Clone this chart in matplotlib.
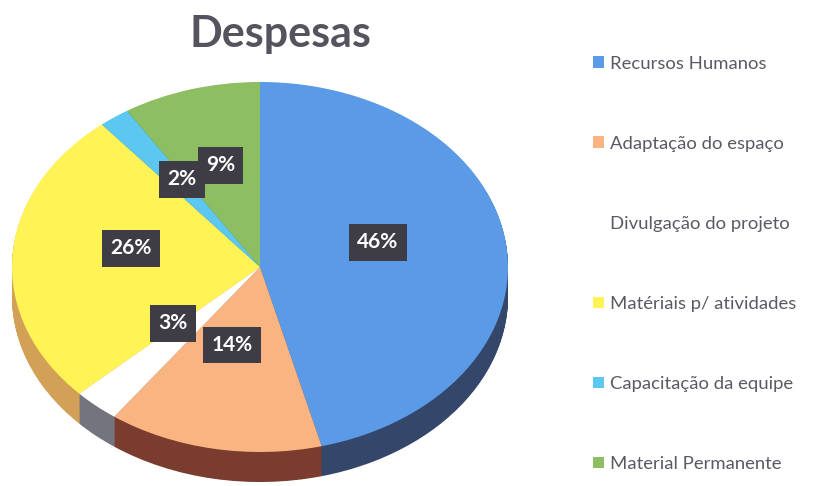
import matplotlib
matplotlib.use("Agg")
import matplotlib.pyplot as plt

# dados do gráfico
categorias = ["Recursos Humanos", "Adaptação do espaço", "Divulgação do projeto",
              "Matériais p/ atividades", "Capacitação da equipe", "Material Permanente"]
valores = [46, 14, 3, 26, 2, 9]
cores_topo = ["#5A9AE6", "#FAB482", "#FFFFFF", "#FFF355", "#5CC8F2", "#8DBF62"]
cores_lado = ["#34476A", "#7A3C2E", "#74747E", "#D2A056", "#2F7F9E", "#4F7A35"]

plt.rcParams['font.family'] = ['Lato', 'DejaVu Sans']

W, H = 838, 486
fig = plt.figure(figsize=(W / 100, H / 100), dpi=100)
ax = fig.add_axes([0, 0, 1, 1])

# elipse do topo: centro (260, 267) px, semi-eixos 248 x 185 px
cx, cy, a, b = 260, 267, 248, 185
profundidade = 30 / b

# lateral (extrusão)
n = 40
for k in range(n, 0, -1):
    ax.pie(valores, colors=cores_lado, startangle=90, counterclock=False,
           center=(0, -profundidade * k / n), radius=1,
           wedgeprops=dict(linewidth=0))

wedges, _, autotexts = ax.pie(
    valores, colors=cores_topo, startangle=90, counterclock=False,
    radius=1, autopct='%d%%', pctdistance=0.5,
    wedgeprops=dict(linewidth=0),
    textprops=dict(color='white', fontsize=15, fontweight='bold'))

for t in autotexts:
    x, y = t.get_position()
    t.set_position((x - 0.02, y + 0.07))
    t.set_bbox(dict(boxstyle='square,pad=0.4', fc='#3E3D45', ec='none'))
# 9% na frente do 2%
autotexts[5].set_zorder(autotexts[4].get_zorder() + 1)

ax.set_aspect('auto')
ax.set_xlim(-cx / a, (W - cx) / a)
ax.set_ylim((cy - H) / b, cy / b)
ax.axis('off')

fig.text(280 / W, 1 - 34 / H, "Despesas", ha='center', va='center',
         fontsize=31, fontweight='bold', color='#55545E')

leg = fig.legend(wedges, categorias, loc='upper left',
                 bbox_to_anchor=(576 / W, 1 - 39 / H), frameon=False,
                 fontsize=13.3, labelspacing=3.47, handlelength=0.6,
                 handleheight=0.6, handletextpad=0.35)
for txt in leg.get_texts():
    txt.set_color('#5A5964')

fig.savefig("out.png", dpi=100)
